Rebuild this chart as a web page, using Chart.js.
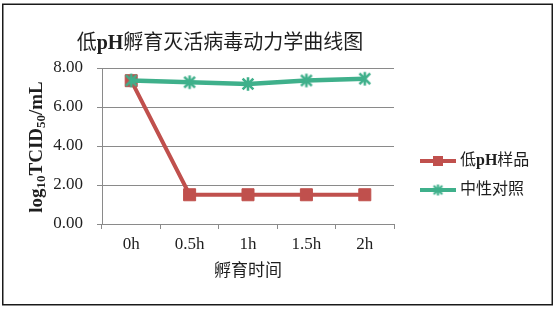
<!DOCTYPE html>
<html>
<head>
<meta charset="utf-8">
<script src="https://cdn.jsdelivr.net/npm/chart.js@4/dist/chart.umd.min.js"></script>
<style>
  html, body { margin: 0; padding: 0; background: #fff; }
  #wrap { width: 556px; height: 309px; }
</style>
</head>
<body>
<div id="wrap"><canvas id="c" width="556" height="309"></canvas></div>
<script>
// Inactivation kinetics: virus titre over incubation time
const categories = ['0h', '0.5h', '1h', '1.5h', '2h'];
const lowPH = [7.35, 1.50, 1.50, 1.50, 1.50];
const neutral = [7.36, 7.27, 7.18, 7.36, 7.45];
const yTicks = [0, 2, 4, 6, 8];
const seriesNames = ['低pH样品', '中性对照'];
const titleParts = [['低', false], ['pH', true], ['孵育灭活病毒动力学曲线图', false]];
const xTitle = '孵育时间';

const RED = '#C0504D';
const GREEN = '#3FB08B';
const SERIF = "'Liberation Serif', 'Noto Sans CJK SC', serif";
const GRID = '#8a8a8a';
const TEXT = '#1e1e1e';

function fontFor(txt, size, bold) {
  return (bold ? 'bold ' : '') + size + 'px ' + SERIF;
}

// six-armed asterisk marker: vertical bar plus an X
function makeStar(size, lw, color) {
  const c = document.createElement('canvas');
  c.width = size; c.height = size;
  const g = c.getContext('2d');
  const m = size / 2, r = size / 2 - lw / 2;
  g.strokeStyle = color;
  g.lineWidth = lw;
  g.lineCap = 'butt';
  g.beginPath();
  g.moveTo(m, m - r); g.lineTo(m, m + r);
  const d = r * 0.8;
  g.moveTo(m - d, m - d); g.lineTo(m + d, m + d);
  g.moveTo(m - d, m + d); g.lineTo(m + d, m - d);
  g.stroke();
  return c;
}
const starMark = makeStar(16, 2.6, GREEN);
const starLegend = makeStar(13, 2.2, GREEN);

// Frame, title, axis titles and legend
const decor = {
  id: 'decor',
  afterDraw(chart) {
    const ctx = chart.ctx;
    const area = chart.chartArea;
    ctx.save();
    // outer frame
    ctx.strokeStyle = '#1a1a1a';
    ctx.lineWidth = 1.5;
    ctx.strokeRect(2.75, 4.25, 549.5, 300.5);

    // title, mixed weight
    ctx.fillStyle = TEXT;
    ctx.textBaseline = 'middle';
    ctx.textAlign = 'left';
    let total = 0;
    titleParts.forEach(([t, b]) => { ctx.font = fontFor(t, 20, b); total += ctx.measureText(t).width; });
    let x = 220 - total / 2;
    titleParts.forEach(([t, b]) => {
      ctx.font = fontFor(t, 20, b);
      ctx.fillText(t, x, 44);
      x += ctx.measureText(t).width;
    });

    // x axis title
    ctx.font = fontFor(xTitle, 17, false);
    ctx.textAlign = 'center';
    ctx.fillText(xTitle, (area.left + area.right) / 2, 272);

    // y axis title with subscripts
    const parts = [['log', 0], ['10', 1], ['TCID', 0], ['50', 1], ['/mL', 0]];
    ctx.translate(37, 147);
    ctx.rotate(-Math.PI / 2);
    ctx.textAlign = 'left';
    let w = 0;
    parts.forEach(([t, s]) => { ctx.font = fontFor(t, s ? 13 : 19, true); w += ctx.measureText(t).width; });
    let px = -w / 2;
    parts.forEach(([t, s]) => {
      ctx.font = fontFor(t, s ? 13 : 19, true);
      ctx.fillText(t, px, s ? 5 : 0);
      px += ctx.measureText(t).width;
    });
    ctx.setTransform(1, 0, 0, 1, 0, 0);

    // legend
    const rows = [
      { name: seriesNames[0], color: RED, y: 161 },
      { name: seriesNames[1], color: GREEN, y: 190 }
    ];
    rows.forEach((r, i) => {
      ctx.strokeStyle = r.color;
      ctx.lineWidth = 4;
      ctx.beginPath();
      ctx.moveTo(420, r.y);
      ctx.lineTo(456, r.y);
      ctx.stroke();
      if (i === 0) {
        ctx.fillStyle = RED;
        ctx.fillRect(438 - 5, r.y - 5, 10, 10);
      } else {
        ctx.drawImage(starLegend, 438 - 6.5, r.y - 6.5);
      }
      ctx.fillStyle = TEXT;
      ctx.textAlign = 'left';
      ctx.textBaseline = 'middle';
      let lx = 460;
      const segs = r.name.split(/(pH)/).filter(s => s);
      segs.forEach(s => {
        ctx.font = fontFor(s, 16, s === 'pH');
        ctx.fillText(s, lx, r.y);
        lx += ctx.measureText(s).width;
      });
    });
    ctx.restore();
  }
};

new Chart(document.getElementById('c'), {
  type: 'line',
  data: {
    labels: categories,
    datasets: [
      {
        label: seriesNames[0],
        data: lowPH,
        borderColor: RED,
        backgroundColor: RED,
        borderWidth: 4,
        pointStyle: 'rect',
        pointRadius: 8.5,
        pointBorderWidth: 1,
        pointBackgroundColor: RED,
        pointBorderColor: RED,
        order: 1,
        tension: 0
      },
      {
        label: seriesNames[1],
        data: neutral,
        borderColor: GREEN,
        backgroundColor: GREEN,
        borderWidth: 4.5,
        pointStyle: starMark,
        pointRadius: 8,
        order: 0,
        tension: 0
      }
    ]
  },
  options: {
    responsive: false,
    animation: false,
    devicePixelRatio: 1,
    layout: { padding: { left: 0, right: 162, top: 68, bottom: 25 } },
    plugins: {
      legend: { display: false },
      title: { display: false },
      tooltip: { enabled: false }
    },
    scales: {
      x: {
        offset: true,
        grid: {
          offset: true,
          drawOnChartArea: false,
          tickLength: 5,
          color: GRID
        },
        border: { color: GRID, width: 1 },
        ticks: {
          color: TEXT,
          font: { family: SERIF, size: 17 },
          padding: 5,
          maxRotation: 0
        },
        afterFit(s) { s.height = 60; }
      },
      y: {
        min: 0,
        max: 8,
        afterBuildTicks(s) { s.ticks = yTicks.map(v => ({ value: v })); },
        grid: { color: GRID, tickLength: 5 },
        border: { color: GRID, width: 1 },
        ticks: {
          color: TEXT,
          font: { family: SERIF, size: 17 },
          padding: 14,
          callback: v => Number(v).toFixed(2)
        },
        afterFit(s) { s.width = 102; }
      }
    }
  },
  plugins: [decor]
});
</script>
</body>
</html>
